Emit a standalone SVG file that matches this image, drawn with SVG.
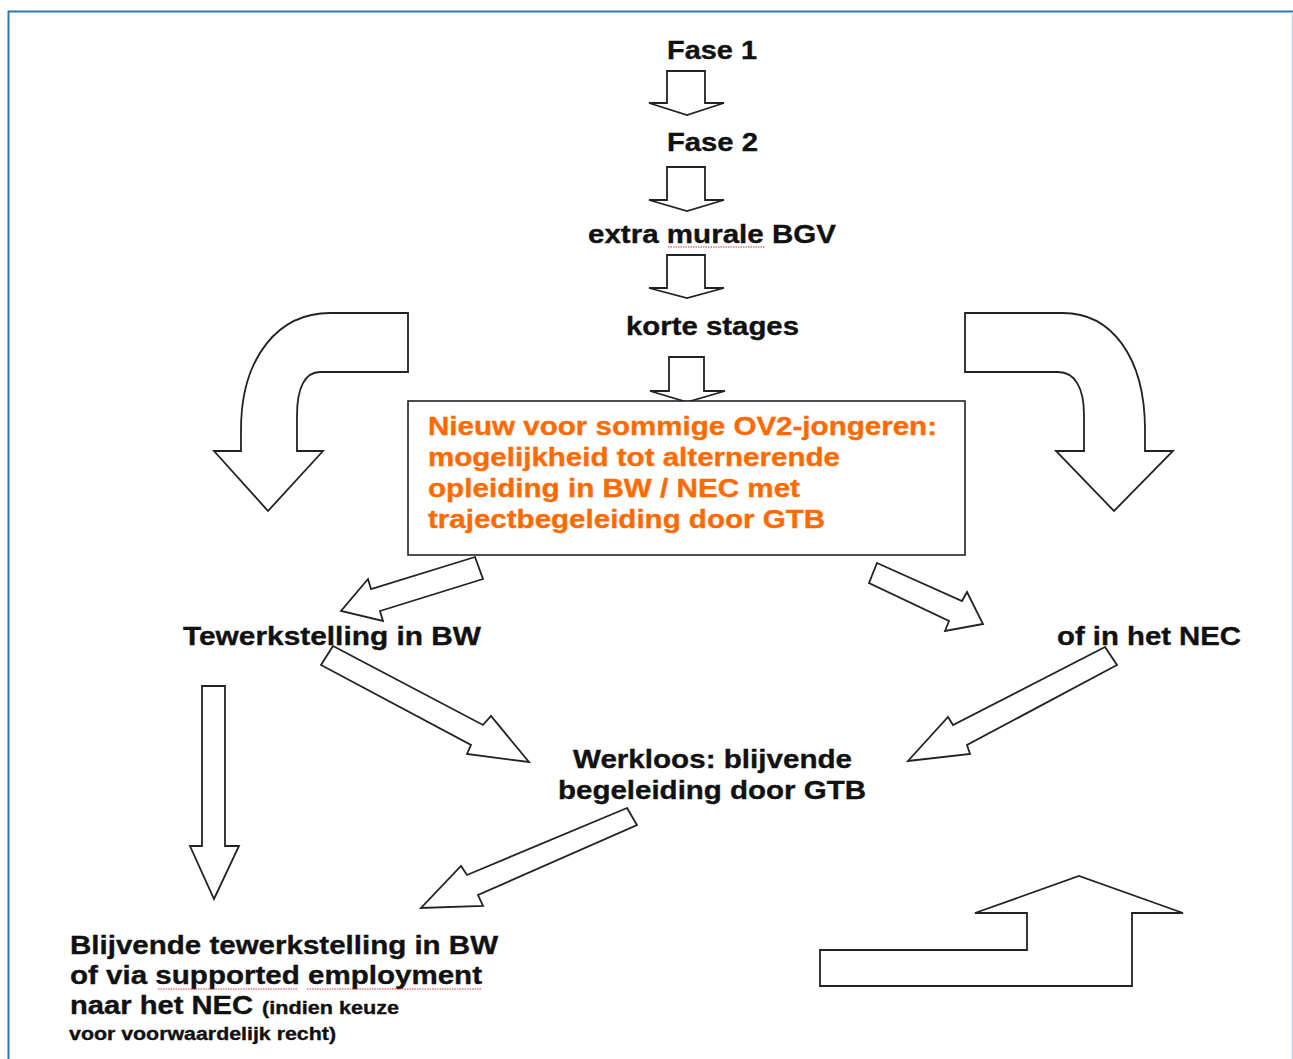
<svg xmlns="http://www.w3.org/2000/svg" width="1293" height="1059" viewBox="0 0 1293 1059">
<style>
.t{font-family:"Liberation Sans",Arial,sans-serif;font-weight:bold;font-size:25px;fill:#111;stroke:#111;stroke-width:0.35}
.o{font-family:"Liberation Sans",Arial,sans-serif;font-weight:bold;font-size:25px;fill:#ff6a00;stroke:#ff6a00;stroke-width:0.35}
.s{font-size:18px}
.ar{fill:#fff;stroke:#222;stroke-width:1.8;stroke-linejoin:miter}
.sp{fill:none;stroke:#e03030;stroke-width:1.2;stroke-dasharray:1.5 1}
</style>
<rect width="1293" height="1059" fill="#fff"/>
<g id="frame">
<line x1="8" y1="11.5" x2="1293" y2="11.5" stroke="#2a78b6" stroke-width="2"/>
<line x1="8.5" y1="11" x2="8.5" y2="1059" stroke="#2a78b6" stroke-width="2"/>
<line x1="1292.5" y1="12" x2="1292.5" y2="1059" stroke="#b8d6ec" stroke-width="1.5"/>
</g>
<g id="connectors">
<polygon class="ar" points="667,71 705,71 705,103 724,103 687,115 649,103 667,103"/>
<polygon class="ar" points="667,167 705,167 705,200 724,200 687,211 649,200 667,200"/>
<polygon class="ar" points="667,255 705,255 705,288 724,288 687,298 649,288 667,288"/>
<polygon class="ar" points="669,357 704,357 704,391 725,391 687,402 650,391 669,391"/>
<path class="ar" d="M408 313 L330 313 C280 313 241 355 241 430 L241 451 L214 451 L268 511 L323 451 L297 451 L297 415 C297 388 305 372 320 372 L408 372 Z"/>
<path class="ar" d="M965 313 L1063 313 C1110 313 1145 355 1145 430 L1145 451 L1173 451 L1114 511 L1056 451 L1084 451 L1084 415 C1084 388 1075 372 1058 372 L965 372 Z"/>
<polygon class="ar" points="475,557 483,579 380,611 383,621 341,611 368,579 371,589"/>
<polygon class="ar" points="333,646 483,725 491,716 529,762 467,754 471,745 321,665"/>
<polygon class="ar" points="877,563 962,601 967,592 983,624 945,631 949,621 869,583"/>
<polygon class="ar" points="1105,647 953,725 948,717 908,761 970,754 967,745 1117,665"/>
<polygon class="ar" points="627,808 467,875 461,866 421,908 483,906 478,895 637,825"/>
<polygon class="ar" points="202,686 225,686 225,846 239,846 214,899 190,846 202,846"/>
<polygon class="ar" points="820,986 820,950 1027,950 1027,913 975,913 1079,876 1183,913 1132,913 1132,986"/>
</g>
<g id="fase1"><text class="t" x="667" y="59" textLength="90" lengthAdjust="spacingAndGlyphs">Fase 1</text></g>
<g id="fase2"><text class="t" x="667" y="151" textLength="91" lengthAdjust="spacingAndGlyphs">Fase 2</text></g>
<g id="bgv"><text class="t" x="588" y="243" textLength="248" lengthAdjust="spacingAndGlyphs">extra murale BGV</text>
<path class="sp" d="M668 247 L765 247"/></g>
<g id="stages"><text class="t" x="626" y="335" textLength="173" lengthAdjust="spacingAndGlyphs">korte stages</text></g>
<g id="nieuw">
<rect x="408" y="401" width="557" height="154" fill="#fff" stroke="#222" stroke-width="1.6"/>
<text class="o" x="428" y="435" textLength="509" lengthAdjust="spacingAndGlyphs">Nieuw voor sommige OV2-jongeren:</text>
<text class="o" x="428" y="466" textLength="412" lengthAdjust="spacingAndGlyphs">mogelijkheid tot alternerende</text>
<text class="o" x="428" y="497" textLength="372" lengthAdjust="spacingAndGlyphs">opleiding in BW / NEC met</text>
<text class="o" x="428" y="528" textLength="397" lengthAdjust="spacingAndGlyphs">trajectbegeleiding door GTB</text>
</g>
<g id="bw"><text class="t" x="183" y="645" textLength="298" lengthAdjust="spacingAndGlyphs">Tewerkstelling in BW</text></g>
<g id="nec"><text class="t" x="1057" y="645" textLength="184" lengthAdjust="spacingAndGlyphs">of in het NEC</text></g>
<g id="werkloos">
<text class="t" x="573" y="768" textLength="279" lengthAdjust="spacingAndGlyphs">Werkloos: blijvende</text>
<text class="t" x="558" y="799" textLength="308" lengthAdjust="spacingAndGlyphs">begeleiding door GTB</text>
</g>
<g id="blijvend">
<text class="t" x="70" y="954" textLength="428" lengthAdjust="spacingAndGlyphs">Blijvende tewerkstelling in BW</text>
<text class="t" x="70" y="984" textLength="412" lengthAdjust="spacingAndGlyphs">of via supported employment</text>
<path class="sp" d="M158 989 L298 989 M307 989 L482 989"/>
<text class="t" x="70" y="1014" textLength="183" lengthAdjust="spacingAndGlyphs">naar het NEC</text>
<text class="t s" x="262" y="1014" textLength="137" lengthAdjust="spacingAndGlyphs">(indien keuze</text>
<text class="t s" x="69" y="1040" textLength="267" lengthAdjust="spacingAndGlyphs">voor voorwaardelijk recht)</text>
</g>
</svg>
